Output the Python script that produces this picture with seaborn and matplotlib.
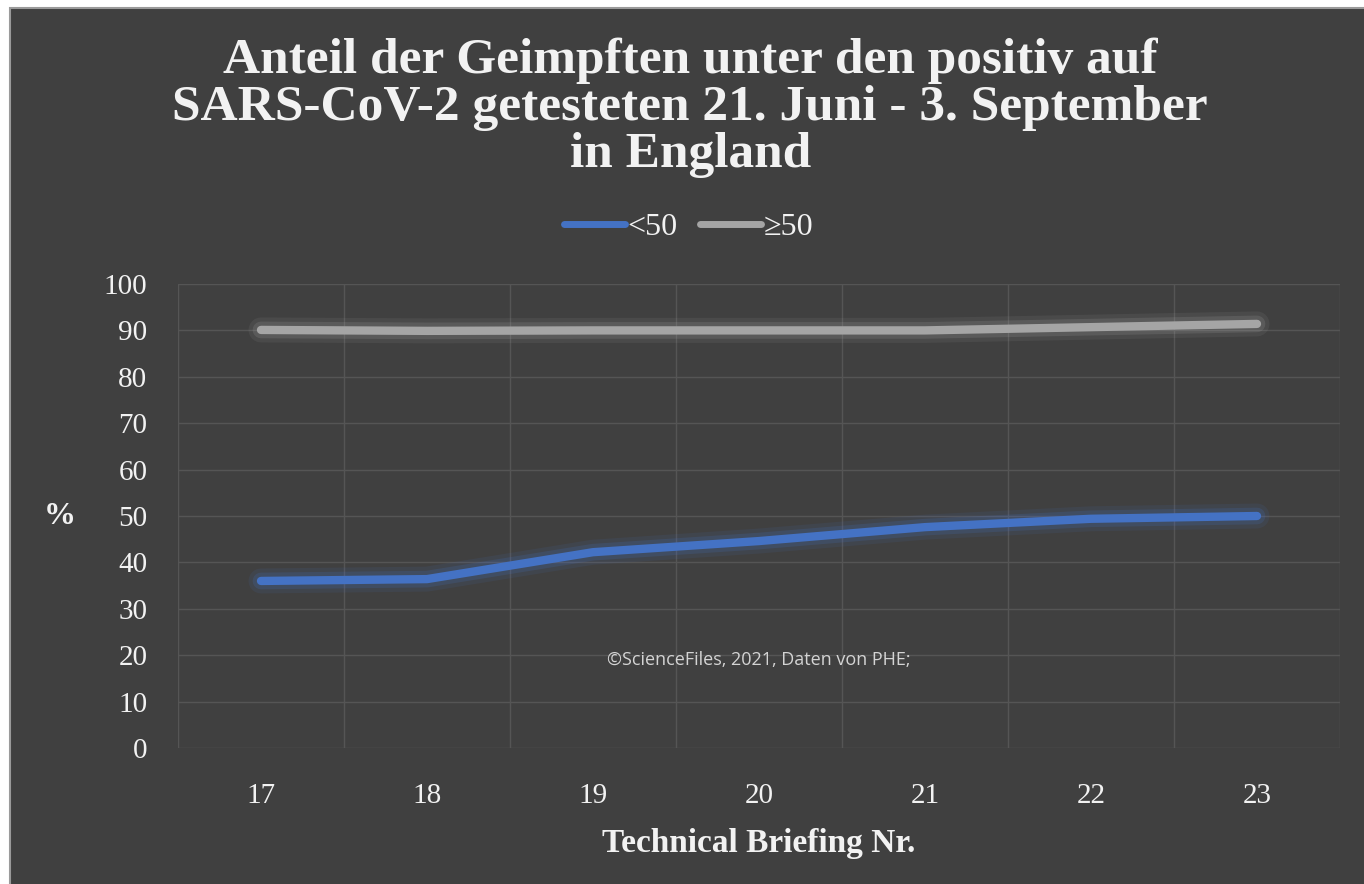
import matplotlib

matplotlib.use("Agg")
import matplotlib.pyplot as plt
import matplotlib.patheffects as pe
from matplotlib.lines import Line2D
from matplotlib.patches import Rectangle
import pandas as pd
import seaborn as sns

# Data
briefings = [17, 18, 19, 20, 21, 22, 23]
under_50 = [36.0, 36.4, 42.2, 44.6, 47.6, 49.4, 50.0]
over_50 = [90.1, 89.9, 90.0, 90.0, 90.0, 90.7, 91.4]
series_names = ["<50", "≥50"]
series_colors = ["#4472C4", "#A5A5A5"]
yticks = [0, 10, 20, 30, 40, 50, 60, 70, 80, 90, 100]

df = pd.DataFrame({
    "briefing": briefings * 2,
    "value": under_50 + over_50,
    "group": [series_names[0]] * len(briefings) + [series_names[1]] * len(briefings),
})

BG = "#404040"
GRID = "#555555"
TXT = "#f2f2f2"

sns.set_style("dark")
plt.rcParams["font.family"] = ["Liberation Serif", "DejaVu Serif"]

fig = plt.figure(figsize=(13.64, 8.84), dpi=100)
fig.patch.set_facecolor("white")
# dark chart panel inside a thin white margin
fig.patches.append(Rectangle((10 / 1364, -0.01), 1, 1.01 - 8 / 884, transform=fig.transFigure,
                             facecolor=BG, edgecolor="#9a9a9a", linewidth=1.5, zorder=-10))

ax = fig.add_axes([178 / 1364, 1 - 748 / 884, (1340 - 178) / 1364, (748 - 284) / 884])
ax.set_facecolor(BG)

sns.lineplot(data=df, x="briefing", y="value", hue="group", palette=series_colors,
             linewidth=6, ax=ax, legend=False)
for line in ax.get_lines():
    line.set_solid_capstyle("round")
    line.set_path_effects([
        pe.Stroke(linewidth=18, foreground=line.get_color(), alpha=0.1),
        pe.Stroke(linewidth=12, foreground=line.get_color(), alpha=0.18),
        pe.Normal(),
    ])

ax.set_xlim(16.5, 23.5)
ax.set_ylim(0, 100)
ax.set_xticks(briefings)
ax.set_xticks([b - 0.5 for b in briefings] + [23.5], minor=True)
ax.set_yticks(yticks)
ax.grid(False)
ax.grid(True, which="minor", axis="x", color=GRID, linewidth=1)
ax.grid(True, which="major", axis="y", color=GRID, linewidth=1)
ax.tick_params(axis="both", which="both", length=0, colors=TXT, labelsize=21)
ax.tick_params(axis="x", pad=25)
ax.tick_params(axis="y", pad=22)
for s in ax.spines.values():
    s.set_visible(False)

ax.set_xlabel("Technical Briefing Nr.", color=TXT, fontsize=24, fontweight="bold", labelpad=14)
ax.set_ylabel("%", color=TXT, fontsize=23, fontweight="bold", rotation=0, labelpad=32, va="center")

ax.text(20, 19, "©ScienceFiles, 2021, Daten von PHE;", color="#d4d4d4", fontsize=13,
        ha="center", va="center", family=["Open Sans", "DejaVu Sans"])

fig.text(0.506, 0.878, "Anteil der Geimpften unter den positiv auf\n"
         "SARS-CoV-2 getesteten 21. Juni - 3. September\nin England",
         ha="center", va="center", color=TXT, fontsize=37, fontweight="bold", linespacing=1.03)

handles = [Line2D([0], [0], color=c, linewidth=5, solid_capstyle="round") for c in series_colors]
fig.legend(handles, series_names, loc="center", bbox_to_anchor=(0.505, 0.743), ncol=2,
           frameon=False, fontsize=23, labelcolor=TXT, handlelength=1.9, handletextpad=0.1,
           columnspacing=0.7)

fig.savefig("out.png", dpi=100, facecolor=fig.get_facecolor())
